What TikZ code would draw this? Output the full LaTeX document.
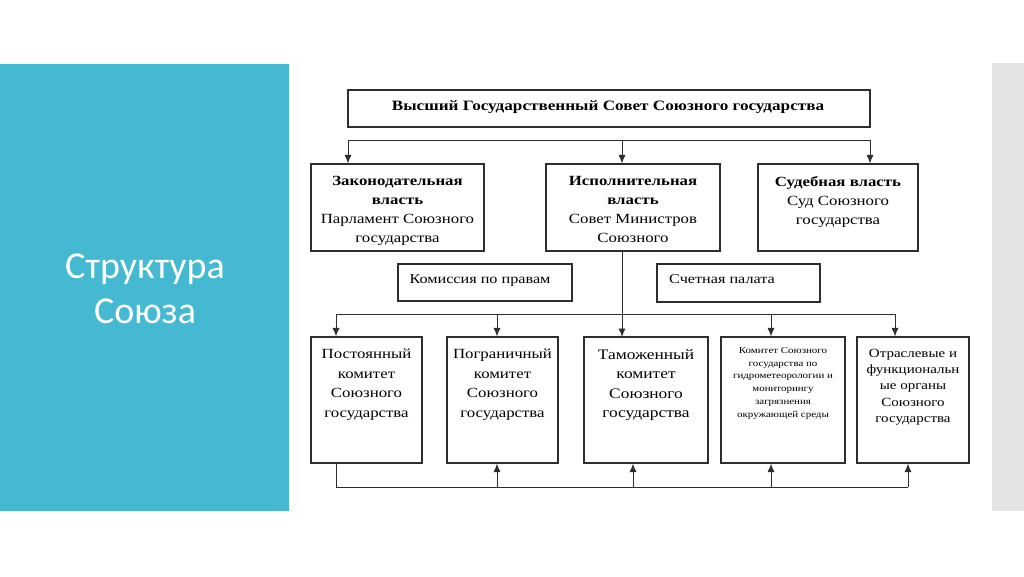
\documentclass[tikz,border=0pt]{standalone}
\usepackage{fontspec}
\setmainfont{Liberation Serif}[FakeStretch=1.2]
\newfontfamily\titlefont{Carlito}
\usetikzlibrary{arrows.meta}
\definecolor{teal}{HTML}{45B9D2}
\definecolor{stripgray}{HTML}{E4E4E4}
\definecolor{linegray}{HTML}{2E2E2E}
\tikzset{
  boxx/.style={draw=linegray, line width=1.1pt, inner sep=0pt},
  txt/.style={anchor=north, align=center, inner sep=0pt, text=black},
  conn/.style={draw=linegray, line width=0.9pt},
  arr/.style={conn, -{Latex[length=8.5pt,width=7pt]}},
}
\begin{document}
\begin{tikzpicture}[x=1pt,y=-1pt]
\useasboundingbox (0,0) rectangle (1024,576);
\fill[white] (0,0) rectangle (1024,576);
\fill[teal] (0,64) rectangle (289,511);
\fill[stripgray] (992,63) rectangle (1024,511);
\node[txt, anchor=center, text=white, font=\titlefont\fontsize{38}{45}\selectfont] (title) at (145,289) {Структура\\Союза};

% boxes
\node[boxx, minimum width=522pt, minimum height=37pt] (top) at (609,108.5) {};
\node[boxx, minimum width=173pt, minimum height=87pt] (l1) at (397.5,207.5) {};
\node[boxx, minimum width=174pt, minimum height=87pt] (l2) at (633,207.5) {};
\node[boxx, minimum width=160pt, minimum height=87pt] (l3) at (838,207.5) {};
\node[boxx, minimum width=174pt, minimum height=37pt] (kom) at (485,282.5) {};
\node[boxx, minimum width=163pt, minimum height=38pt] (sch) at (738.5,283) {};
\node[boxx, minimum width=111pt, minimum height=126pt] (b1) at (366.5,400) {};
\node[boxx, minimum width=111pt, minimum height=126pt] (b2) at (502.5,400) {};
\node[boxx, minimum width=124pt, minimum height=126pt] (b3) at (646,400) {};
\node[boxx, minimum width=124pt, minimum height=126pt] (b4) at (783,400) {};
\node[boxx, minimum width=112pt, minimum height=126pt] (b5) at (913,400) {};

% texts
\node[txt, anchor=center, font=\bfseries\fontsize{14.3}{18}\selectfont] (toptxt) at (608,107) {Высший Государственный Совет Союзного государства};
\node[txt, font=\fontsize{14}{19}\selectfont] (l1txt) at (397.5,176) {\textbf{Законодательная}\\\textbf{власть}\\Парламент Союзного\\государства};
\node[txt, font=\fontsize{14}{19}\selectfont] (l2txt) at (633,176) {\textbf{Исполнительная}\\\textbf{власть}\\Совет Министров\\Союзного};
\node[txt, font=\fontsize{14}{19}\selectfont] (l3txt) at (838,176) {\textbf{Судебная власть}\\Суд Союзного\\государства};
\node[txt, anchor=center, font=\fontsize{13.5}{16}\selectfont] (komtxt) at (480,281) {Комиссия по правам};
\node[txt, anchor=west, font=\fontsize{13.5}{16}\selectfont] (schtxt) at (669,279) {Счетная палата};
\node[txt, font=\fontsize{14}{19.5}\selectfont] (b1txt) at (366.5,349) {Постоянный\\комитет\\Союзного\\государства};
\node[txt, font=\fontsize{14}{19.5}\selectfont] (b2txt) at (502.5,349) {Пограничный\\комитет\\Союзного\\государства};
\node[txt, font=\fontsize{14.5}{19.5}\selectfont] (b3txt) at (646,349) {Таможенный\\комитет\\Союзного\\государства};
\node[txt, font=\fontsize{9.1}{12.8}\selectfont] (b4txt) at (783,347) {Комитет Союзного\\государства по\\гидрометеорологии и\\мониторингу\\загрязнения\\окружающей среды};
\node[txt, font=\fontsize{12.5}{16.2}\selectfont] (b5txt) at (913,349) {Отраслевые и\\функциональн\\ые органы\\Союзного\\государства};

% bus 1
\coordinate (bus1L) at (348,140);
\coordinate (bus1M) at (622,140);
\coordinate (bus1R) at (870,140);
\draw[conn] (bus1L) -- (bus1R);
\draw[arr] (bus1L) -- (bus1L |- l1.north);
\draw[arr] (bus1M) -- (bus1M |- l2.north);
\draw[arr] (bus1R) -- (bus1R |- l3.north);

% executive down to customs committee
\coordinate (l2b) at (622,251);
\coordinate (b3t) at (622,337);
\draw[arr] (l2b) -- (b3t);

% bus 2
\coordinate (bus2L) at (336,314);
\coordinate (bus2R) at (895,314);
\draw[conn] (bus2L) -- (bus2R);
\draw[arr] (bus2L) -- (bus2L |- b1.north);
\draw[arr] (497,314) -- (b2.north -| 497,0);
\draw[arr] (771,314) -- (b4.north -| 771,0);
\draw[arr] (bus2R) -- (bus2R |- b5.north);

% bus 3
\coordinate (bus3L) at (336,487);
\coordinate (bus3R) at (908,487);
\draw[conn] (bus3L |- b1.south) -- (bus3L) -- (bus3R);
\draw[arr] (497,487) -- (b2.south -| 497,0);
\draw[arr] (633,487) -- (b3.south -| 633,0);
\draw[arr] (771,487) -- (b4.south -| 771,0);
\draw[arr] (bus3R) -- (bus3R |- b5.south);
\end{tikzpicture}
\end{document}
